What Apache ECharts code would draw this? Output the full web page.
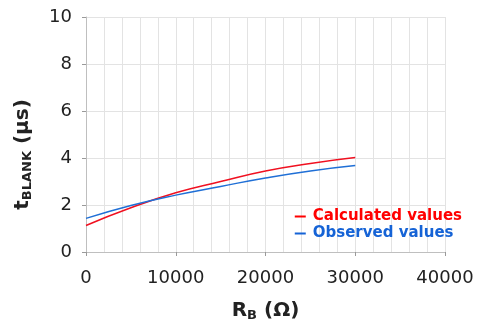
<!DOCTYPE html>
<html><head><meta charset="utf-8">
<script src="https://cdn.jsdelivr.net/npm/echarts@6/dist/echarts.min.js"></script>
<style>html,body{margin:0;padding:0;background:#fff}#c{width:481px;height:325px}</style>
</head><body><div id="c"></div>
<script>
const xValues = [0, 5000, 10000, 15000, 20000, 25000, 30000];
const calculated = [1.13, 1.88, 2.52, 3.0, 3.45, 3.77, 4.02];
const observed = [1.43, 1.98, 2.42, 2.79, 3.15, 3.45, 3.68];
const seriesNames = ['Calculated values', 'Observed values'];

const chart = echarts.init(document.getElementById('c'));
const font = 'DejaVu Sans';
const rich = {
  b: {fontFamily: font, fontWeight: 'bold', fontSize: 20, color: '#222'},
  s: {fontFamily: font, fontWeight: 'bold', fontSize: 13, color: '#222', verticalAlign: 'bottom', padding: [9, 0, 0, 0]}
};
chart.setOption({
  animation: false,
  grid: {left: 86, right: 36, top: 17, bottom: 73, outerBoundsMode: 'none', containLabel: false},
  legend: {
    orient: 'vertical', right: 14, top: 204, itemGap: 2,
    itemWidth: 11, itemHeight: 2, icon: 'rect',
    data: [
      {name: seriesNames[0], textStyle: {color: '#ff0000'}},
      {name: seriesNames[1], textStyle: {color: '#1563d6'}}
    ],
    textStyle: {fontFamily: font, fontWeight: 'bold', fontSize: 15, padding: [0, 0, 0, 2]}
  },
  xAxis: {
    type: 'value', min: 0, max: 40000, interval: 10000,
    name: '{b|R}{s|B}{b| (Ω)}', nameLocation: 'middle', nameGap: 48,
    nameTextStyle: {rich: rich},
    axisLine: {lineStyle: {color: '#bfbfbf'}},
    axisTick: {show: true, length: 4, lineStyle: {color: '#999'}},
    axisLabel: {fontFamily: font, fontSize: 18, color: '#222', margin: 17, formatter: v => String(v)},
    splitLine: {show: true, lineStyle: {color: '#e3e3e3'}},
    minorTick: {show: false, splitNumber: 5},
    minorSplitLine: {show: true, lineStyle: {color: '#e3e3e3'}}
  },
  yAxis: {
    type: 'value', min: 0, max: 10, interval: 2,
    name: '{b|t}{s|BLANK}{b| (µs)}', nameLocation: 'middle', nameGap: 52, nameRotate: 90,
    nameTextStyle: {rich: rich, padding: [0, 40, 0, 0]},
    axisLine: {show: true, lineStyle: {color: '#bfbfbf'}},
    axisTick: {show: true, length: 4, lineStyle: {color: '#999'}},
    axisLabel: {fontFamily: font, fontSize: 18, color: '#222', margin: 14},
    splitLine: {show: true, lineStyle: {color: '#e3e3e3'}}
  },
  series: [
    {name: seriesNames[0], type: 'line', smooth: true, symbol: 'none', color: '#ff0000',
     lineStyle: {width: 1.5, color: '#f01020'}, data: xValues.map((x, i) => [x, calculated[i]])},
    {name: seriesNames[1], type: 'line', smooth: true, symbol: 'none', color: '#1563d6',
     lineStyle: {width: 1.5, color: '#1f6fd6'}, data: xValues.map((x, i) => [x, observed[i]])}
  ]
});
</script></body></html>
